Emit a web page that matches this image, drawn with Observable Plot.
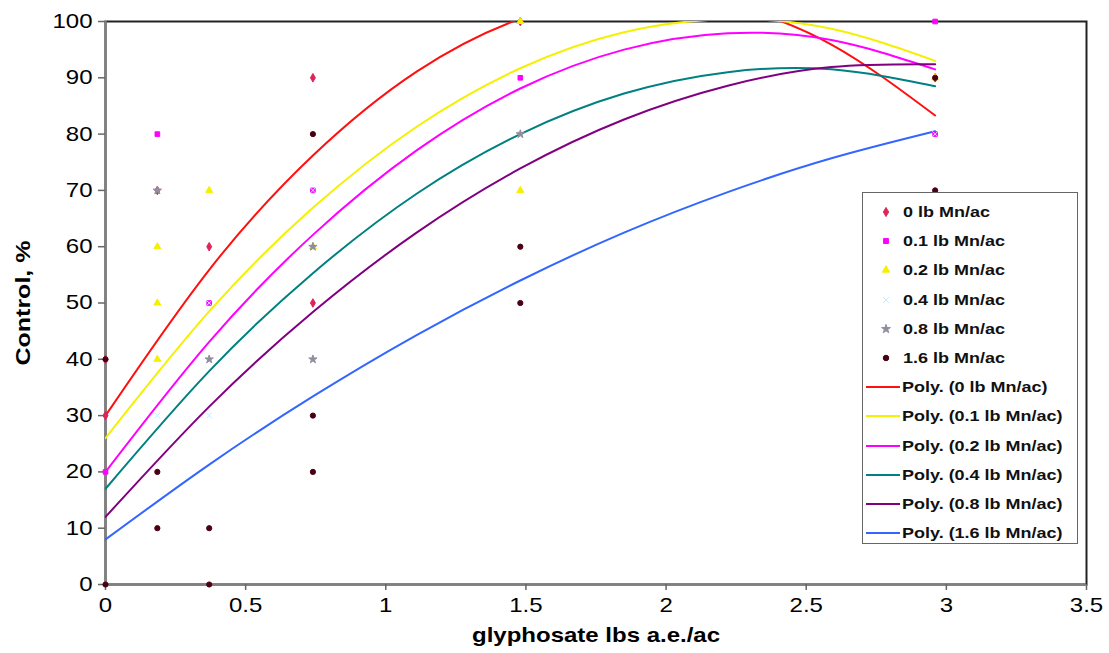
<!DOCTYPE html>
<html><head><meta charset="utf-8">
<script src="https://cdn.jsdelivr.net/npm/d3@7"></script>
<script src="https://cdn.jsdelivr.net/npm/@observablehq/plot@0.6"></script>
<style>
html,body{margin:0;padding:0;background:#fff;}
#wrap{position:relative;width:1109px;height:653px;font-family:"Liberation Sans",Arial,sans-serif;}
#wrap svg.plot{position:absolute;left:0;top:0;}
g[aria-label="y-axis label"] text, g[aria-label="x-axis label"] text{font-weight:bold;}
#legend{position:absolute;left:862px;top:192px;width:216px;height:352px;border:1.5px solid #666;background:#fff;box-sizing:border-box;}
.row{position:absolute;left:0;width:100%;height:28px;}
.row svg{position:absolute;left:0;top:0;}
.row span{position:absolute;top:50%;transform:translateY(-50%) scaleX(1.16);transform-origin:left center;font-weight:bold;font-size:15.5px;color:#111;white-space:nowrap;}
</style>
</head><body>
<div id="wrap"></div>
<script>
// Series labels
const series = ["0 lb Mn/ac","0.1 lb Mn/ac","0.2 lb Mn/ac","0.4 lb Mn/ac","0.8 lb Mn/ac","1.6 lb Mn/ac"];
const fitLabels = ["Poly. (0 lb Mn/ac)","Poly. (0.1 lb Mn/ac)","Poly. (0.2 lb Mn/ac)","Poly. (0.4 lb Mn/ac)","Poly. (0.8 lb Mn/ac)","Poly. (1.6 lb Mn/ac)"];
const markerColors = ["#e0245a","#ff00ff","#f5f000","#c6ecff","#8e8e9e","#4a0012"];
const markerSymbols = ["diamond","square","triangle","times","star","circle"];
const lineColors = ["#ff1010","#f5f000","#ff00ff","#008080","#800080","#3366ff"];

// Observed points [glyphosate, control %]
const pts0  = [[0,40],[0,30],[0.185,70],[0.37,60],[0.74,90],[0.74,50],[1.48,100],[2.96,90]];
const pts01 = [[0,20],[0.185,80],[0.37,50],[0.74,70],[1.48,90],[2.96,100],[2.96,80]];
const pts02 = [[0.185,60],[0.185,50],[0.185,40],[0.37,70],[0.74,60],[1.48,100],[1.48,70],[2.96,90]];
const pts04 = [[0.185,30],[0.37,30],[0.37,50],[0.74,70],[1.48,80],[2.96,80]];
const pts08 = [[0.185,70],[0.37,40],[0.74,60],[0.74,40],[1.48,80]];
const pts16 = [[0,0],[0,40],[0.185,20],[0.185,10],[0.37,10],[0.37,0],[0.74,80],[0.74,30],[0.74,20],[1.48,60],[1.48,50],[2.96,90],[2.96,70]];

// Trend curves at sample x positions
const fitX   = [0, 0.37, 0.74, 1.11, 1.48, 1.85, 2.22, 2.59, 2.96];
const fit0   = [30, 55.9, 76.2, 91.1, 100.5, 104.5, 102.9, 95.9, 83.3];
const fit01  = [26, 48.5, 66.9, 81.3, 91.7, 98.1, 100.4, 98.7, 93.0];
const fit02  = [20, 43.1, 62.1, 77.1, 88.1, 95.0, 97.9, 96.7, 91.5];
const fit04  = [17, 37.9, 55.3, 69.4, 80.0, 87.2, 91.0, 91.5, 88.5];
const fit08  = [12, 31.6, 48.4, 62.5, 73.9, 82.6, 88.6, 91.9, 92.4];
const fit16  = [8, 21.3, 33.4, 44.3, 54.0, 62.5, 69.7, 75.7, 80.5];

const xTicks = [0, 0.5, 1, 1.5, 2, 2.5, 3, 3.5];
const yTicks = [0,10,20,30,40,50,60,70,80,90,100];

const allPts = [pts0, pts01, pts02, pts04, pts08, pts16];
const allFits = [fit0, fit01, fit02, fit04, fit08, fit16];

const points = allPts.flatMap((arr, i) => arr.map(([x, y]) => ({x, y, s: i})));
const curves = allFits.flatMap((arr, i) => arr.map((y, j) => ({x: fitX[j], y, s: i})));

const chart = Plot.plot({
  width: 1109, height: 653,
  marginLeft: 105, marginRight: 23, marginTop: 21, marginBottom: 69,
  style: {fontFamily: '"Liberation Sans", Arial, sans-serif', fontSize: "20px", color: "#000", background: "#fff"},
  x: {domain: [0, 3.5]},
  y: {domain: [0, 100]},
  color: {type: "identity"},
  marks: [
    Plot.frame({stroke: "#222", strokeWidth: 2}),
    Plot.ruleX([0], {stroke: "#808080", strokeWidth: 2.5}),
    Plot.ruleY([0], {stroke: "#808080", strokeWidth: 2.5}),
    Plot.axisX({ticks: xTicks, tickFormat: d => String(d), tickSize: 6, tickPadding: 7, stroke: "#666", strokeWidth: 1.5,
      label: "glyphosate lbs a.e./ac", labelAnchor: "center", labelOffset: 57, labelArrow: "none", fontSize: 20}),
    Plot.axisY({ticks: yTicks, tickSize: 7, tickPadding: 6, stroke: "#666", strokeWidth: 1.5,
      label: "Control, %", labelAnchor: "center", labelOffset: 90, labelArrow: "none", fontSize: 20}),
    Plot.line(curves, {x: "x", y: "y", z: "s", stroke: d => lineColors[d.s], strokeWidth: 2, curve: "natural", clip: true}),
    Plot.dot(points, {x: "x", y: "y", symbol: d => markerSymbols[d.s], fill: d => markerColors[d.s], stroke: d => markerColors[d.s], strokeWidth: 1, r: 2.6})
  ]
});
chart.classList.add("plot");
const wrap = document.getElementById("wrap");
wrap.appendChild(chart);

// Widen texts along their reading direction, as in the reference
function stretch(sel, s) {
  chart.querySelectorAll(sel).forEach(t => {
    const b = t.getBBox();
    const anchor = getComputedStyle(t).textAnchor || t.getAttribute("text-anchor");
    let cx = b.x + b.width / 2;
    if (anchor === "end") cx = b.x + b.width;
    else if (anchor === "start") cx = b.x;
    const tr = t.getAttribute("transform") || "";
    t.setAttribute("transform", `${tr} translate(${cx},0) scale(${s},1) translate(${-cx},0)`);
  });
}
stretch('g[aria-label="x-axis tick label"] text', 1.2);
stretch('g[aria-label="y-axis tick label"] text', 1.2);
stretch('g[aria-label="x-axis label"] text', 1.2);
stretch('g[aria-label="y-axis label"] text', 1.25);

// Legend
const legend = document.createElement("div");
legend.id = "legend";
wrap.appendChild(legend);
const symMap = {diamond: d3.symbolDiamond, square: d3.symbolSquare, triangle: d3.symbolTriangle, times: d3.symbolTimes, star: d3.symbolStar, circle: d3.symbolCircle};
const rowTop = i => (19 + i * 29.2 - 14) + "px";
series.forEach((name, i) => {
  const row = document.createElement("div");
  row.className = "row";
  row.style.top = rowTop(i);
  const path = d3.symbol(symMap[markerSymbols[i]], 24)();
  row.innerHTML = `<svg width="36" height="28"><path d="${path}" transform="translate(23,14)" fill="${markerColors[i]}" stroke="${markerColors[i]}"/></svg><span style="left:40px">${name}</span>`;
  legend.appendChild(row);
});
fitLabels.forEach((name, i) => {
  const row = document.createElement("div");
  row.className = "row";
  row.style.top = rowTop(i + 6);
  row.innerHTML = `<svg width="40" height="28"><line x1="3" x2="37" y1="14" y2="14" stroke="${lineColors[i]}" stroke-width="2"/></svg><span style="left:39px">${name}</span>`;
  legend.appendChild(row);
});
</script>
</body></html>
